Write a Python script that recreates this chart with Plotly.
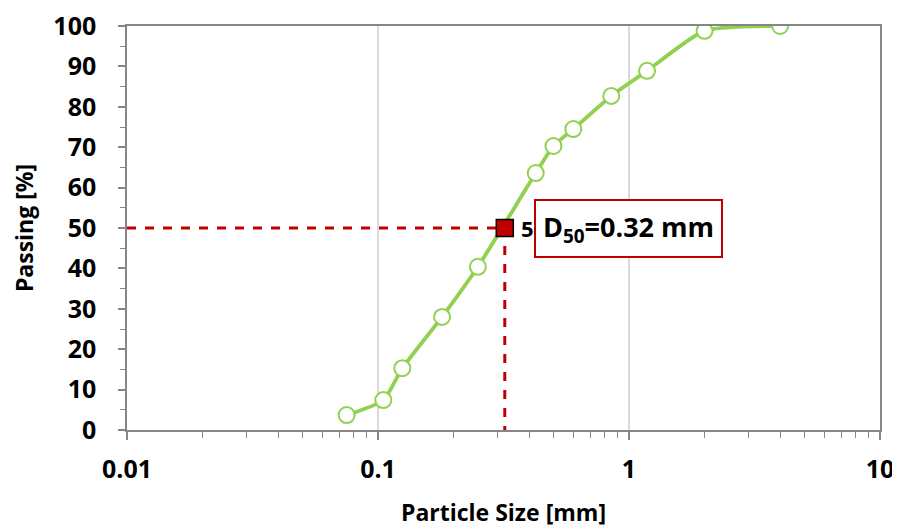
import math
import plotly.graph_objects as go

# Data
size_mm = [0.075, 0.105, 0.125, 0.18, 0.25, 0.425, 0.5, 0.6, 0.85, 1.18, 2.0, 4.0]
passing = [3.7, 7.4, 15.3, 28.0, 40.4, 63.6, 70.3, 74.5, 82.7, 88.9, 98.8, 100.0]
d50 = 0.32
d50_pass = 50
x_tick_vals = [0.01, 0.1, 1, 10]
x_tick_text = ["0.01", "0.1", "1", "10"]
y_tick_vals = list(range(0, 101, 10))

GREEN = "#92D050"
RED = "#C00000"
AXIS = "#868686"
FONT = "Open Sans"

fig = go.Figure()

# dashed guide lines
fig.add_trace(go.Scatter(x=[0.01, d50], y=[d50_pass, d50_pass], mode="lines",
                         line=dict(color=RED, width=3, dash="dash"), hoverinfo="skip"))
fig.add_trace(go.Scatter(x=[d50, d50], y=[d50_pass, 0], mode="lines",
                         line=dict(color=RED, width=3, dash="dash"), hoverinfo="skip"))

# gradation curve
fig.add_trace(go.Scatter(x=size_mm, y=passing, mode="lines+markers",
                         line=dict(color=GREEN, width=3.8, shape="spline", smoothing=0.6),
                         marker=dict(symbol="circle", size=16, color="white",
                                     line=dict(color=GREEN, width=2))))

# D50 marker
fig.add_trace(go.Scatter(x=[d50], y=[d50_pass], mode="markers",
                         marker=dict(symbol="square", size=17, color=RED,
                                     line=dict(color="black", width=1.5))))

fig.update_layout(
    width=892, height=524,
    margin=dict(l=119, r=20, t=18, b=102),
    plot_bgcolor="white", paper_bgcolor="white",
    showlegend=False,
    font=dict(family=FONT, color="black"),
    xaxis=dict(
        type="log", range=[-2, 1], automargin=False,
        tickvals=x_tick_vals, ticktext=x_tick_text,
        tickfont=dict(size=25, family=FONT, weight="bold"),
        ticklabelstandoff=8, ticklabeloverflow="allow",
        title=dict(text="<b>Particle Size [mm]</b>", font=dict(size=23, family=FONT), standoff=21),
        showgrid=True, gridcolor="#D9D9D9", gridwidth=1.5,
        showline=True, linecolor=AXIS, linewidth=1.5, mirror=True,
        ticks="outside", ticklen=8, tickcolor=AXIS, tickwidth=1.5,
        minor=dict(ticks="outside", ticklen=6, tickcolor=AXIS, tickwidth=1.2,
                   dtick="D1", showgrid=False),
        zeroline=False,
    ),
    yaxis=dict(
        range=[0, 100], automargin=False,
        tickvals=y_tick_vals,
        tickfont=dict(size=25, family=FONT, weight="bold"),
        ticklabelstandoff=17, ticklabeloverflow="allow",
        title=dict(text="<b>Passing [%]</b>", font=dict(size=23, family=FONT), standoff=28),
        showgrid=False,
        showline=True, linecolor=AXIS, linewidth=1.5, mirror=True,
        ticks="outside", ticklen=7, tickcolor=AXIS, tickwidth=1.5,
        minor=dict(ticks="outside", ticklen=5, tickcolor=AXIS, tickwidth=1.2, dtick=5),
        zeroline=False,
    ),
)

# partially visible data label next to the box
fig.add_annotation(x=math.log10(d50), y=d50_pass, xref="x", yref="y",
                   text="<b>5</b>", showarrow=False, xanchor="left", xshift=14,
                   font=dict(size=22, family=FONT, color="black"))

fig.add_annotation(x=math.log10(d50), y=d50_pass, xref="x", yref="y",
                   text="<b>D<sub>50</sub>=0.32 mm</b>", showarrow=False,
                   xanchor="left", xshift=29, yshift=0,
                   font=dict(size=27, family=FONT, color="black"),
                   bgcolor="white", bordercolor=RED, borderwidth=2, borderpad=7)

fig.write_html("out.html")
